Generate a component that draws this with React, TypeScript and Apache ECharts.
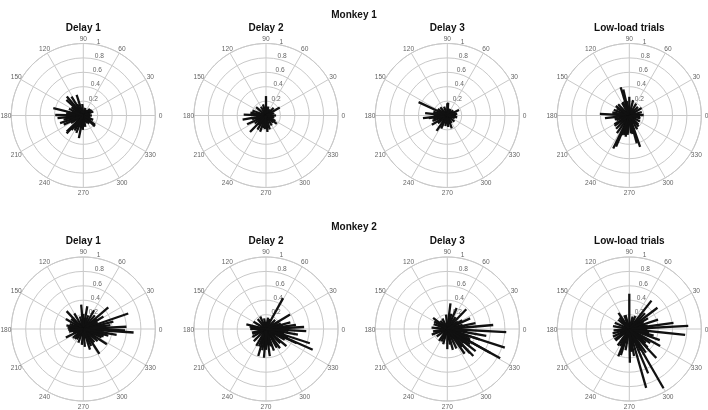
import React, { useEffect, useRef } from 'react';
import * as echarts from 'echarts';

const monkeyTitles = ['Monkey 1', 'Monkey 2'];
const panelTitles = ['Delay 1', 'Delay 2', 'Delay 3', 'Low-load trials'];
const angleTicks = [0, 30, 60, 90, 120, 150, 180, 210, 240, 270, 300, 330];
const radiusTicks = [0.2, 0.4, 0.6, 0.8, 1];

// each entry: [magnitude, angle in degrees]
const m1Delay1 = [
  [0.43, 166], [0.36, 186], [0.39, 179], [0.35, 131], [0.31, 122], [0.30, 108], [0.32, 137],
  [0.32, 259], [0.32, 224], [0.34, 227], [0.26, 231], [0.22, 317], [0.34, 198], [0.28, 192],
  [0.30, 205], [0.14, 34], [0.15, 336], [0.21, 321], [0.15, 22],
  [0.12, 0], [0.10, 15], [0.13, 45], [0.09, 60], [0.11, 75], [0.16, 95], [0.18, 118], [0.20, 145],
  [0.22, 155], [0.24, 172], [0.20, 212], [0.24, 240], [0.26, 248], [0.20, 268], [0.16, 280],
  [0.12, 295], [0.14, 305], [0.10, 350], [0.08, 20], [0.18, 200], [0.15, 250], [0.12, 330],
  [0.22, 235], [0.17, 160],
];
const m1Delay2 = [
  [0.27, 90], [0.22, 30], [0.33, 190], [0.31, 178], [0.32, 226], [0.23, 275], [0.23, 239],
  [0.29, 205], [0.24, 250], [0.19, 322],
  [0.14, 0], [0.12, 15], [0.15, 45], [0.10, 60], [0.13, 75], [0.16, 105], [0.14, 120], [0.18, 140],
  [0.20, 160], [0.22, 170], [0.20, 195], [0.19, 215], [0.18, 260], [0.20, 285], [0.16, 300],
  [0.14, 315], [0.15, 330], [0.12, 345], [0.11, 350], [0.09, 20], [0.17, 230], [0.19, 265],
];
const m1Delay3 = [
  [0.44, 155], [0.34, 186], [0.31, 174], [0.26, 235], [0.17, 90], [0.18, 86], [0.18, 25],
  [0.19, 289], [0.25, 211], [0.22, 200], [0.20, 165], [0.26, 188],
  [0.12, 0], [0.14, 10], [0.11, 40], [0.10, 60], [0.13, 110], [0.15, 130], [0.16, 145], [0.19, 180],
  [0.20, 192], [0.17, 220], [0.20, 245], [0.15, 260], [0.16, 275], [0.12, 300], [0.13, 320],
  [0.11, 340], [0.14, 350], [0.10, 70], [0.09, 20],
];
const m1LowLoad = [
  [0.41, 107], [0.37, 103], [0.41, 177], [0.34, 186], [0.51, 244], [0.47, 247], [0.46, 289],
  [0.40, 285], [0.26, 90], [0.22, 76], [0.20, 31], [0.20, 2],
  [0.18, 15], [0.17, 45], [0.19, 60], [0.20, 120], [0.22, 135], [0.20, 150], [0.23, 160], [0.21, 195],
  [0.24, 210], [0.26, 225], [0.30, 235], [0.28, 255], [0.27, 265], [0.25, 275], [0.22, 300],
  [0.18, 315], [0.17, 330], [0.16, 345], [0.15, 355], [0.20, 100], [0.24, 170], [0.19, 200], [0.30, 260],
  [0.21, 115], [0.23, 145], [0.25, 215], [0.29, 250], [0.26, 280], [0.20, 310],
];
const m2Delay1 = [
  [0.70, 356], [0.60, 3], [0.58, 358], [0.66, 19], [0.46, 41], [0.41, 303], [0.39, 327], [0.34, 95],
  [0.32, 80], [0.34, 133], [0.27, 206], [0.17, 238], [0.30, 288], [0.43, 14], [0.47, 350], [0.33, 32],
  [0.38, 8], [0.36, 345], [0.30, 60], [0.28, 150], [0.25, 120],
  [0.20, 0], [0.22, 25], [0.25, 50], [0.20, 70], [0.18, 105], [0.20, 160], [0.22, 175], [0.20, 190],
  [0.19, 220], [0.20, 250], [0.22, 265], [0.25, 275], [0.24, 310], [0.26, 320], [0.28, 335],
  [0.30, 340], [0.15, 200], [0.18, 230], [0.27, 10], [0.25, 355],
  [0.23, 35], [0.21, 90], [0.22, 140], [0.24, 168], [0.21, 182], [0.26, 295], [0.31, 5], [0.29, 350],
];
const m2Delay2 = [
  [0.71, 336], [0.64, 342], [0.56, 357], [0.53, 3], [0.49, 61], [0.39, 31], [0.40, 266], [0.38, 278],
  [0.37, 320], [0.47, 335], [0.28, 167], [0.33, 306], [0.39, 254], [0.45, 350], [0.42, 8], [0.35, 15],
  [0.30, 300], [0.32, 290],
  [0.20, 0], [0.22, 20], [0.18, 45], [0.16, 80], [0.15, 100], [0.18, 130], [0.20, 150], [0.22, 180],
  [0.20, 195], [0.22, 210], [0.24, 225], [0.27, 240], [0.30, 260], [0.25, 285], [0.28, 315],
  [0.30, 330], [0.26, 345], [0.24, 10], [0.15, 70], [0.20, 200],
  [0.21, 30], [0.19, 115], [0.23, 172], [0.26, 248], [0.29, 270], [0.33, 340], [0.31, 355],
];
const m2Delay3 = [
  [0.82, 357], [0.84, 342], [0.84, 331], [0.68, 331], [0.52, 314], [0.46, 313], [0.64, 5], [0.47, 342],
  [0.22, 280], [0.36, 83], [0.32, 66], [0.38, 46], [0.25, 142], [0.23, 200], [0.55, 350], [0.50, 322],
  [0.42, 305], [0.40, 12], [0.35, 25], [0.30, 295], [0.28, 270],
  [0.20, 0], [0.22, 15], [0.18, 35], [0.20, 55], [0.22, 75], [0.20, 95], [0.16, 115], [0.20, 160],
  [0.22, 175], [0.20, 190], [0.18, 215], [0.20, 235], [0.22, 255], [0.30, 285], [0.33, 340],
  [0.35, 335], [0.30, 320], [0.28, 355], [0.25, 10], [0.15, 130],
  [0.21, 150], [0.19, 245], [0.38, 326], [0.32, 310], [0.24, 30],
];
const m2LowLoad = [
  [0.49, 90], [0.50, 52], [0.49, 37], [0.82, 3], [0.78, 354], [0.62, 8], [0.42, 18], [0.95, 300],
  [0.85, 286], [0.67, 293], [0.55, 313], [0.49, 331], [0.35, 326], [0.41, 248], [0.38, 252],
  [0.27, 124], [0.22, 157], [0.25, 205], [0.47, 271], [0.30, 30], [0.35, 345], [0.45, 340],
  [0.38, 280], [0.40, 305], [0.23, 170],
  [0.25, 0], [0.22, 15], [0.20, 65], [0.18, 75], [0.20, 105], [0.20, 140], [0.22, 185], [0.24, 195],
  [0.25, 220], [0.28, 235], [0.30, 260], [0.32, 275], [0.30, 320], [0.28, 350], [0.26, 10],
  [0.22, 25], [0.20, 110], [0.25, 215],
  [0.33, 5], [0.31, 45], [0.21, 130], [0.27, 242], [0.34, 298], [0.36, 315],
];

const panelData = [
  [m1Delay1, m1Delay2, m1Delay3, m1LowLoad],
  [m2Delay1, m2Delay2, m2Delay3, m2LowLoad],
];

const colX = [83.3, 266, 447.3, 629.3];
const rowY = [115.5, 329];
const rowMonkeyTop = [9, 221.5];
const rowPanelTop = [22.5, 235.5];
const RADIUS = 72;
const GRID = '#c9c9c9';
const TICK_COLOR = '#3a3a3a';
const FONT = 'Liberation Sans, Arial, Helvetica, sans-serif';

function buildOption() {
  const polar: any[] = [];
  const angleAxis: any[] = [];
  const radiusAxis: any[] = [];
  const series: any[] = [];
  const title: any[] = [];

  monkeyTitles.forEach((t, row) => {
    title.push({
      text: t, left: 354, top: rowMonkeyTop[row], textAlign: 'center', padding: 0,
      textStyle: { fontFamily: FONT, fontSize: 10, fontWeight: 'bold', color: '#111' },
    });
  });

  panelData.forEach((rowPanels, row) => {
    rowPanels.forEach((data, col) => {
      const idx = polar.length;
      polar.push({ center: [colX[col], rowY[row]], radius: RADIUS });
      title.push({
        text: panelTitles[col], left: colX[col], top: rowPanelTop[row], textAlign: 'center', padding: 0,
        textStyle: { fontFamily: FONT, fontSize: 10, fontWeight: 'bold', color: '#111' },
      });
      angleAxis.push({
        polarIndex: idx, type: 'value', min: 0, max: 360, interval: 30, startAngle: 0, clockwise: false,
        axisLine: { show: true, lineStyle: { color: GRID, width: 1 } },
        axisTick: { show: false }, axisLabel: { show: false },
        splitLine: { show: true, lineStyle: { color: GRID, width: 1 } },
      });
      radiusAxis.push({
        polarIndex: idx, type: 'value', min: 0, max: 1, interval: 0.2,
        axisLine: { show: false }, axisTick: { show: false }, axisLabel: { show: false },
        splitLine: { show: true, lineStyle: { color: GRID, width: 1 } },
      });
      // angle labels
      series.push({
        type: 'scatter', coordinateSystem: 'polar', polarIndex: idx, clip: false, silent: true,
        symbolSize: 0, itemStyle: { color: TICK_COLOR }, z: 2,
        data: angleTicks.map((a) => [1.075, a]),
        label: {
          show: true, position: [0, 0], align: 'center', verticalAlign: 'middle',
          formatter: (p: any) => String(p.value[1]),
          fontFamily: FONT, fontSize: 6.6, color: TICK_COLOR, textBorderWidth: 0,
        },
      });
      // radius labels
      series.push({
        type: 'scatter', coordinateSystem: 'polar', polarIndex: idx, clip: false, silent: true,
        symbolSize: 0, itemStyle: { color: TICK_COLOR }, z: 2,
        data: radiusTicks.map((r) => [r, 82]),
        label: {
          show: true, position: [3.5, -3], align: 'left', verticalAlign: 'middle',
          formatter: (p: any) => String(p.value[0]),
          fontFamily: FONT, fontSize: 6.6, color: TICK_COLOR, textBorderWidth: 0,
        },
      });
      // vectors
      series.push({
        type: 'custom', coordinateSystem: 'polar', polarIndex: idx, silent: true, z: 5,
        data,
        renderItem: (params: any, api: any) => {
          const r = api.value(0);
          const a = api.value(1);
          const p0 = api.coord([0, a]);
          const p1 = api.coord([r, a]);
          return {
            type: 'line',
            shape: { x1: p0[0], y1: p0[1], x2: p1[0], y2: p1[1] },
            style: { stroke: '#111111', lineWidth: 2.3, lineCap: 'butt' },
          };
        },
      });
    });
  });

  return {
    animation: false,
    backgroundColor: '#ffffff',
    title, polar, angleAxis, radiusAxis, series,
  };
}

export default function App() {
  const ref = useRef<HTMLDivElement>(null);
  useEffect(() => {
    if (!ref.current) return;
    const chart = echarts.init(ref.current, null, { renderer: 'svg' });
    chart.setOption(buildOption() as any);
    return () => chart.dispose();
  }, []);
  return (
    <div
      ref={ref}
      style={{
        position: 'absolute', left: 0, top: 0, width: 708, height: 410,
        background: '#fff', filter: 'grayscale(1)',
      }}
    />
  );
}
